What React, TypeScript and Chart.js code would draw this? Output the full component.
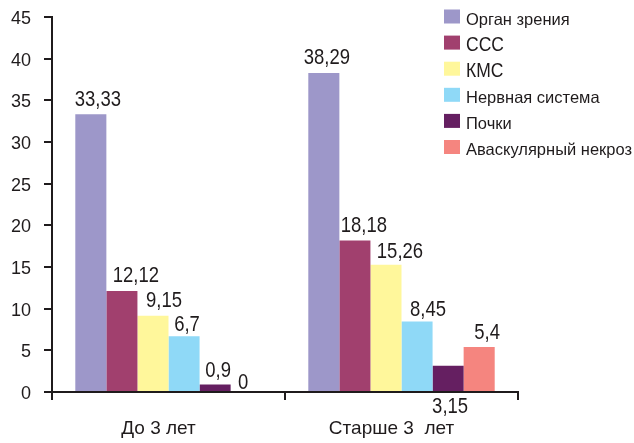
import React, { useEffect, useRef } from 'react';
import { Chart, registerables } from 'chart.js';

Chart.register(...registerables);

const categories = ['До 3 лет', 'Старше 3  лет'];
const seriesNames = ['Орган зрения', 'ССС', 'КМС', 'Нервная система', 'Почки', 'Аваскулярный некроз'];
const organZreniya = [33.33, 38.29];
const sss = [12.12, 18.18];
const kms = [9.15, 15.26];
const nervnayaSistema = [6.7, 8.45];
const pochki = [0.9, 3.15];
const avaskulyarnyNekroz = [0, 5.4];
const yTickValues = [0, 5, 10, 15, 20, 25, 30, 35, 40, 45];

const seriesValues = [organZreniya, sss, kms, nervnayaSistema, pochki, avaskulyarnyNekroz];
const seriesColors = ['#9d97c9', '#a1406e', '#fff79b', '#8fd9f7', '#651f61', '#f5857f'];

const INK = '#1f1b1c';
const FAMILY = "'Liberation Sans', Arial, sans-serif";

// label placement relative to each bar: [dx, gap above bar top]; below=true puts it under the axis
const labelPlacement = [
  [[7, 8], [3, 9]],
  [[14, 9], [9, 9]],
  [[11, 9], [14, 7]],
  [[3, 5], [11, 6]],
  [[3, 8], [2, 0, true]],
  [[-3, 3], [8, 8]],
];

const valueLabels = {
  id: 'valueLabels',
  afterDatasetsDraw(chart: any, _args: any, opts: any) {
    const ctx = chart.ctx;
    const xAxisTop = chart.scales.x.top;
    ctx.save();
    ctx.font = `${opts.size}px ${FAMILY}`;
    ctx.fillStyle = INK;
    ctx.textAlign = 'center';
    ctx.textBaseline = 'alphabetic';
    chart.data.datasets.forEach((ds: any, di: number) => {
      const meta = chart.getDatasetMeta(di);
      meta.data.forEach((bar: any, i: number) => {
        const v = ds.data[i];
        const text = String(v).replace('.', ',');
        const p = labelPlacement[di][i];
        const x = bar.x + p[0];
        const y = p[2] ? xAxisTop + 21 : bar.y - p[1];
        ctx.save();
        ctx.translate(x, y);
        ctx.scale(1, opts.stretch);
        ctx.fillText(text, 0, 0);
        ctx.restore();
      });
    });
    ctx.restore();
  },
};

const sideLegend = {
  id: 'sideLegend',
  afterDraw(chart: any, _args: any, opts: any) {
    const ctx = chart.ctx;
    ctx.save();
    ctx.textAlign = 'left';
    ctx.textBaseline = 'alphabetic';
    chart.data.datasets.forEach((ds: any, i: number) => {
      const baseline = opts.top + i * opts.rowGap;
      ctx.fillStyle = ds.backgroundColor;
      ctx.fillRect(opts.x, baseline - 1 - opts.boxH, opts.boxW, opts.boxH);
      ctx.fillStyle = INK;
      const size = opts.sizes[i];
      ctx.font = `${size}px ${FAMILY}`;
      ctx.save();
      ctx.translate(opts.x + opts.boxW + 6, baseline);
      ctx.scale(1, opts.stretch[i]);
      ctx.fillText(ds.label, 0, 0);
      ctx.restore();
    });
    ctx.restore();
  },
};

export default function App() {
  const canvasRef = useRef<HTMLCanvasElement | null>(null);

  useEffect(() => {
    document.body.style.margin = '0';
    const canvas = canvasRef.current;
    if (!canvas) return;
    const chart = new Chart(canvas, {
      type: 'bar',
      data: {
        labels: categories,
        datasets: seriesNames.map((name, i) => ({
          label: name,
          data: seriesValues[i],
          backgroundColor: seriesColors[i],
          borderWidth: 0,
          categoryPercentage: 0.8,
          barPercentage: 1,
        })),
      },
      options: {
        animation: false,
        responsive: false,
        devicePixelRatio: 1,
        layout: { padding: { top: 17, right: 116, left: 0, bottom: 0 } },
        scales: {
          x: {
            grid: {
              drawOnChartArea: false,
              drawTicks: true,
              tickLength: 8,
              color: INK,
              lineWidth: 2,
            },
            border: { color: INK, width: 2 },
            ticks: {
              color: INK,
              font: { family: FAMILY, size: 19 },
              padding: 17,
              labelOffset: -10,
            },
            afterFit: (s: any) => {
              s.height = 51;
              s.paddingLeft = 0;
              s.paddingRight = 0;
            },
          },
          y: {
            min: 0,
            max: 45,
            afterBuildTicks: (s: any) => {
              s.ticks = yTickValues.map((v) => ({ value: v }));
            },
            grid: {
              drawOnChartArea: false,
              drawTicks: true,
              tickLength: 8,
              color: INK,
              lineWidth: 2,
            },
            border: { color: INK, width: 2 },
            ticks: {
              color: INK,
              font: { family: FAMILY, size: 18 },
              padding: 13,
              labelOffset: 2,
            },
            afterFit: (s: any) => {
              s.width = 52;
              s.paddingTop = 0;
              s.paddingBottom = 0;
            },
          },
        },
        plugins: {
          legend: { display: false },
          tooltip: { enabled: false },
          valueLabels: { size: 18.5, stretch: 1.18 },
          sideLegend: {
            x: 444,
            top: 24.5,
            rowGap: 26.1,
            boxW: 16,
            boxH: 14,
            sizes: [16.5, 17.5, 17.5, 16.5, 16.5, 16.5],
            stretch: [1.05, 1.18, 1.18, 1.05, 1.05, 1.05],
          },
        } as any,
      },
      plugins: [valueLabels, sideLegend],
    });
    return () => chart.destroy();
  }, []);

  return (
    <div style={{ width: 634, height: 443 }}>
      <canvas ref={canvasRef} width={634} height={443} />
    </div>
  );
}
